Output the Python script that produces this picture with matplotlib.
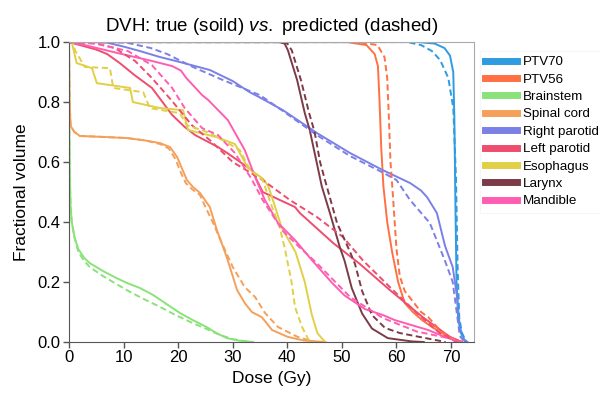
import matplotlib
matplotlib.use("Agg")
import matplotlib.pyplot as plt
from matplotlib.lines import Line2D

plt.rcParams["font.family"] = ["Liberation Sans", "DejaVu Sans"]
plt.rcParams["mathtext.fontset"] = "custom"
plt.rcParams["mathtext.it"] = "Liberation Sans:italic"
plt.rcParams["mathtext.rm"] = "Liberation Sans"

# structure names and colours
structures = ["PTV70", "PTV56", "Brainstem", "Spinal cord", "Right parotid",
              "Left parotid", "Esophagus", "Larynx", "Mandible"]
colors = ["#2f9be0", "#ff7043", "#8be27a", "#f5a05a", "#7b80e6",
          "#ee4d6e", "#e2cf48", "#7d3a47", "#ff5db1"]

# DVH curves: dose (Gy) / fractional volume
ptv70_dose_true = [0, 64, 67, 68.8, 69.8, 70.4, 70.6, 70.8, 71.0, 71.3, 71.8, 72.6]
ptv70_vol_true = [1, 1, 0.995, 0.98, 0.955, 0.9, 0.75, 0.45, 0.2, 0.08, 0.03, 0]
ptv70_dose_pred = [0, 62, 64.5, 66.5, 68, 69.5, 70.4, 70.9, 71.2, 71.5, 72, 72.8]
ptv70_vol_pred = [1, 1, 0.99, 0.97, 0.94, 0.88, 0.78, 0.55, 0.25, 0.08, 0.03, 0]

ptv56_dose_true = [0, 51, 54.5, 56, 56.6, 56.9, 57.2, 57.6, 58.3, 59.2, 60.3, 61.5,
                   63, 64.7, 66.5, 68.3, 70.5, 72]
ptv56_vol_true = [1, 1, 0.99, 0.96, 0.92, 0.8, 0.65, 0.52, 0.4, 0.3, 0.2, 0.13,
                  0.1, 0.073, 0.05, 0.03, 0.01, 0]
ptv56_dose_pred = [0, 53, 56.5, 57.8, 58.3, 58.6, 58.9, 59.3, 60, 60.6, 61.5, 62.8,
                   64.5, 65.8, 68.3, 70.5, 72]
ptv56_vol_pred = [1, 1, 0.99, 0.95, 0.88, 0.75, 0.6, 0.5, 0.31, 0.22, 0.17, 0.14,
                  0.1, 0.083, 0.033, 0.01, 0]

brainstem_dose_true = [0, 0.05, 0.15, 0.3, 0.5, 1, 1.7, 2.8, 3.8, 6.2, 8.5, 10.6, 13,
                       15.4, 18, 20.3, 22.8, 25.2, 27, 28.9, 31, 33.7]
brainstem_vol_true = [1, 0.72, 0.55, 0.45, 0.4, 0.35, 0.31, 0.28, 0.263, 0.237, 0.215,
                      0.197, 0.18, 0.157, 0.125, 0.097, 0.072, 0.05, 0.03, 0.013,
                      0.005, 0]
brainstem_dose_pred = [0, 0.05, 0.15, 0.3, 0.5, 1, 1.7, 2.8, 3.8, 6.2, 10.6, 13.5,
                       16.7, 19.5, 22.7, 25, 27.7, 30, 33]
brainstem_vol_pred = [1, 0.72, 0.55, 0.45, 0.4, 0.35, 0.3, 0.27, 0.25, 0.22, 0.173,
                      0.145, 0.117, 0.09, 0.063, 0.045, 0.023, 0.01, 0]

cord_dose_true = [0, 0.1, 0.3, 1, 2, 6, 10.6, 14, 16.7, 18.5, 19.8, 20.9, 21.6, 22.7,
                  24, 25.8, 27.1, 28.9, 30.8, 32.2, 33.5, 35.3, 36.2, 37.2, 40.1, 43, 47]
cord_vol_true = [1, 0.8, 0.72, 0.7, 0.687, 0.684, 0.68, 0.672, 0.663, 0.65, 0.617,
                 0.57, 0.54, 0.517, 0.497, 0.45, 0.373, 0.283, 0.173, 0.13, 0.1,
                 0.083, 0.063, 0.04, 0.017, 0.005, 0]
cord_dose_pred = [0, 0.1, 0.3, 1, 2, 6, 10.6, 14, 16.7, 18.3, 19.5, 20.6, 21.4, 22.5,
                  24, 25, 26.4, 28, 30, 32.2, 34.1, 35.9, 38.3, 41.9, 45]
cord_vol_pred = [1, 0.8, 0.72, 0.7, 0.687, 0.684, 0.68, 0.672, 0.66, 0.645, 0.61,
                 0.56, 0.53, 0.51, 0.49, 0.45, 0.397, 0.33, 0.25, 0.183, 0.15,
                 0.097, 0.05, 0.017, 0]

rpar_dose_true = [0, 5, 7, 10, 13, 16.7, 20, 25.8, 30, 33.1, 35, 39.2, 45.4, 51.5,
                  57.5, 62.5, 64.5, 65.6, 67.4, 68.9, 70.3, 71.1, 71.6, 72.3, 73]
rpar_vol_true = [1, 1, 0.998, 0.985, 0.97, 0.95, 0.935, 0.907, 0.87, 0.833, 0.815,
                 0.773, 0.697, 0.63, 0.573, 0.53, 0.505, 0.483, 0.43, 0.32, 0.25,
                 0.15, 0.05, 0.01, 0]
rpar_dose_pred = [0, 8, 10.6, 15, 18, 22.7, 28, 35, 39.2, 45.4, 51.5, 57.5, 60, 62.5,
                  66.1, 68.9, 70.3, 71.1, 71.6, 72.5]
rpar_vol_pred = [1, 1, 0.998, 0.98, 0.96, 0.917, 0.875, 0.823, 0.77, 0.69, 0.62,
                 0.565, 0.54, 0.473, 0.397, 0.27, 0.2, 0.09, 0.02, 0]

lpar_dose_true = [0, 2, 5, 7, 9.3, 12, 15.2, 18.9, 21.2, 23.1, 27.3, 29, 33.5, 35.5,
                  41.4, 42.3, 48.4, 53.3, 58.8, 64.8, 69.8, 72]
lpar_vol_true = [1, 0.99, 0.975, 0.96, 0.93, 0.89, 0.847, 0.757, 0.717, 0.69, 0.65,
                 0.63, 0.573, 0.5, 0.45, 0.43, 0.33, 0.26, 0.173, 0.083, 0.017, 0]
lpar_dose_pred = [0, 5, 8.4, 12.1, 15.2, 18.9, 22.5, 26, 30, 35.5, 40.5, 45.4, 50.2,
                  53.8, 58.8, 63.7, 67.9, 71]
lpar_vol_pred = [1, 0.995, 0.98, 0.937, 0.88, 0.803, 0.723, 0.67, 0.6, 0.54, 0.473,
                 0.417, 0.35, 0.273, 0.183, 0.097, 0.03, 0]

eso_dose_true = [0, 0.5, 1.4, 4.2, 5.1, 11.2, 11.7, 16.7, 20.9, 21.8, 27.1, 30.4,
                 32.8, 35.5, 36.5, 37.6, 39, 41.5, 43.2, 44.5, 45.5, 46.9]
eso_vol_true = [1, 1, 0.93, 0.913, 0.863, 0.847, 0.8, 0.78, 0.773, 0.707, 0.683, 0.66,
                0.58, 0.545, 0.52, 0.46, 0.38, 0.3, 0.2, 0.09, 0.03, 0]
eso_dose_pred = [0, 0.7, 1.1, 2.9, 7.5, 8.1, 13.6, 14.8, 20.3, 21.6, 25.8, 31.3, 33.2,
                 35.5, 36.8, 38.6, 39.6, 40.8, 41.4, 42.7, 43.8, 44.7]
eso_vol_pred = [1, 1, 0.973, 0.917, 0.913, 0.847, 0.833, 0.78, 0.763, 0.723, 0.697,
                0.64, 0.573, 0.54, 0.47, 0.383, 0.307, 0.197, 0.117, 0.05, 0.01, 0]

larynx_dose_true = [0, 38.5, 39.5, 40.1, 41.8, 43.2, 44.1, 45.4, 46.3, 47.8, 49.6,
                    50.5, 51.8, 53.7, 55.5, 58.4, 62.8, 65]
larynx_vol_true = [1, 1, 0.995, 0.973, 0.873, 0.763, 0.707, 0.597, 0.52, 0.43, 0.317,
                   0.27, 0.18, 0.095, 0.045, 0.013, 0.002, 0]
larynx_dose_pred = [0, 39, 40, 40.8, 42.5, 44, 45, 46, 46.9, 49.1, 51.5, 52.4, 53.7,
                    55.5, 57.9, 60.6, 62.8, 67.6, 69]
larynx_vol_pred = [1, 1, 0.995, 0.973, 0.873, 0.763, 0.7, 0.6, 0.54, 0.397, 0.3, 0.26,
                   0.17, 0.09, 0.047, 0.03, 0.022, 0.005, 0]

mand_dose_true = [0, 2.9, 9, 15.2, 18.9, 20.5, 21.5, 24.4, 25.5, 29.1, 32.2, 34.1,
                  35.9, 38.3, 41.4, 44.5, 48.2, 50.5, 54.2, 57.5, 59.7, 65.8, 68.9, 71.5]
mand_vol_true = [1, 0.99, 0.963, 0.937, 0.92, 0.905, 0.88, 0.823, 0.807, 0.74, 0.64,
                 0.55, 0.473, 0.397, 0.34, 0.273, 0.197, 0.155, 0.11, 0.09, 0.073,
                 0.04, 0.017, 0]
mand_dose_pred = [0, 5, 10.8, 15.2, 18.9, 21.2, 24.4, 27.3, 30.4, 33.4, 35.5, 39.2,
                  42, 45.4, 51.5, 57.5, 63.7, 69.8, 72]
mand_vol_pred = [1, 0.995, 0.97, 0.923, 0.847, 0.78, 0.713, 0.69, 0.63, 0.545, 0.473,
                 0.37, 0.32, 0.263, 0.15, 0.08, 0.035, 0.012, 0]

true_curves = [(ptv70_dose_true, ptv70_vol_true), (ptv56_dose_true, ptv56_vol_true),
               (brainstem_dose_true, brainstem_vol_true), (cord_dose_true, cord_vol_true),
               (rpar_dose_true, rpar_vol_true), (lpar_dose_true, lpar_vol_true),
               (eso_dose_true, eso_vol_true), (larynx_dose_true, larynx_vol_true),
               (mand_dose_true, mand_vol_true)]
pred_curves = [(ptv70_dose_pred, ptv70_vol_pred), (ptv56_dose_pred, ptv56_vol_pred),
               (brainstem_dose_pred, brainstem_vol_pred), (cord_dose_pred, cord_vol_pred),
               (rpar_dose_pred, rpar_vol_pred), (lpar_dose_pred, lpar_vol_pred),
               (eso_dose_pred, eso_vol_pred), (larynx_dose_pred, larynx_vol_pred),
               (mand_dose_pred, mand_vol_pred)]

fig = plt.figure(figsize=(6.0, 3.97), dpi=100)
ax = fig.add_axes([0.115, 0.1385, 0.675, 0.7555])

for (d, v), c in zip(true_curves, colors):
    ax.plot(d, v, color=c, lw=1.4, solid_joinstyle="round")
for (d, v), c in zip(pred_curves, colors):
    ax.plot(d, v, color=c, lw=1.4, linestyle=(0, (3.2, 1.8)))

ax.set_xlim(0, 74.2)
ax.set_ylim(0, 1.0)
ax.set_xticks(range(0, 71, 10))
ax.set_yticks([0, 0.2, 0.4, 0.6, 0.8, 1.0])
ax.set_yticklabels(["0.0", "0.2", "0.4", "0.6", "0.8", "1.0"])
ax.tick_params(labelsize=12, length=4, width=1, color="#555555", pad=2)

for side in ["left", "bottom"]:
    ax.spines[side].set_color("#555555")
for side in ["top", "right"]:
    ax.spines[side].set_color("#aaaaaa")

ax.set_xlabel("Dose (Gy)", fontsize=12.5, labelpad=4)
ax.set_ylabel("Fractional volume", fontsize=12.5, labelpad=6)
ax.set_title(r"DVH: true (soild) $\it{vs.}$ predicted (dashed)", fontsize=13.5, pad=8)

handles = [Line2D([0], [0], color=c, lw=5) for c in colors]
leg = ax.legend(handles, structures, loc="upper left", bbox_to_anchor=(1.005, 0.985),
                fontsize=9.6, handlelength=2.35, handletextpad=0.45, labelspacing=0.38,
                borderaxespad=0.3, frameon=True, fancybox=False)
leg.get_frame().set_edgecolor("#f4f4f4")
leg.get_frame().set_linewidth(0.8)

fig.savefig("out.png", dpi=100)
